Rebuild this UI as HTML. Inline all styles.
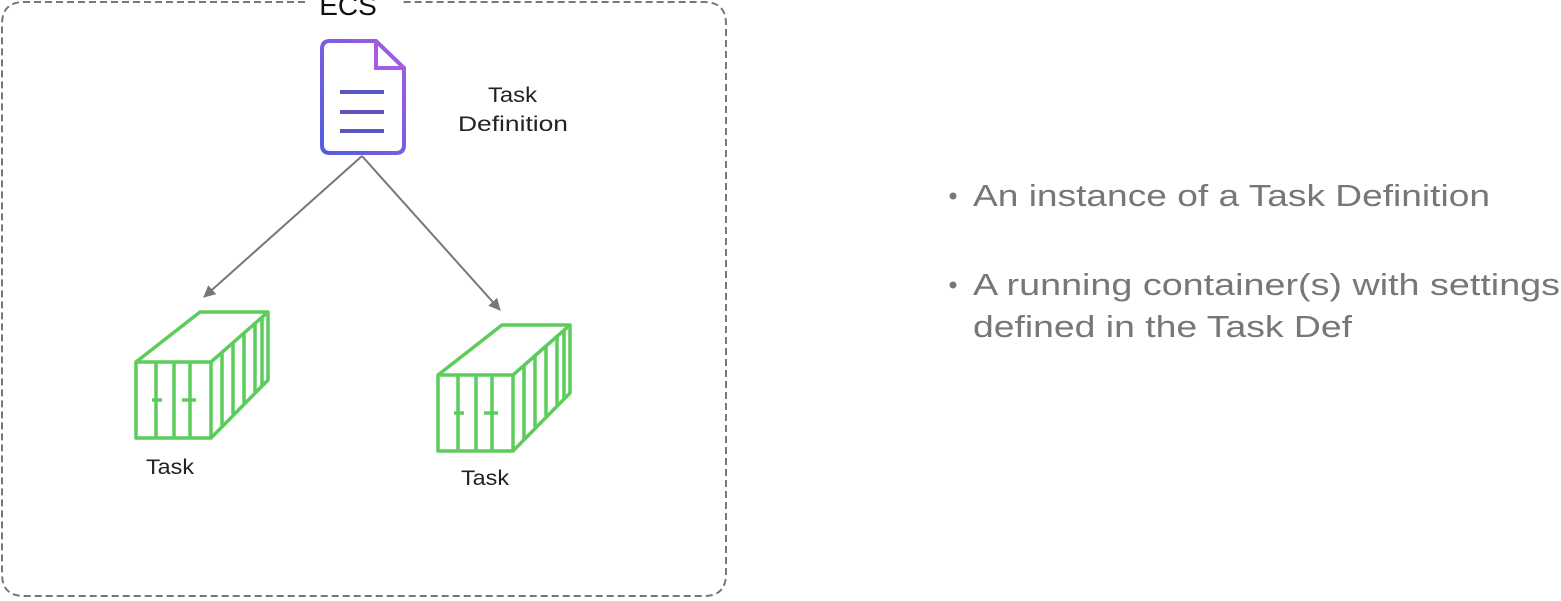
<!DOCTYPE html>
<html><head><meta charset="utf-8"><style>
html,body{margin:0;padding:0;background:#fff;}
svg{display:block}
text{font-family:"Liberation Sans","DejaVu Sans",sans-serif}
</style></head><body>
<svg width="1561" height="601" viewBox="0 0 1561 601" xmlns="http://www.w3.org/2000/svg">
<defs>
<linearGradient id="g" x1="0" y1="1" x2="1" y2="0">
<stop offset="0" stop-color="#4f5de0"/><stop offset="1" stop-color="#a65ce0"/>
</linearGradient>
<marker id="ah" markerWidth="14" markerHeight="14" refX="11" refY="6" orient="auto" markerUnits="userSpaceOnUse">
<path d="M0,0 L12,6 L0,12 Z" fill="#777"/>
</marker>
</defs>
<path d="M305,2 H24 Q2,2 2,24 V574 Q2,596 24,596 H704 Q726,596 726,574 V24 Q726,2 704,2 H402" fill="none" stroke="#777" stroke-width="2" stroke-dasharray="7,4"/>
<text x="348" y="15" font-size="28" text-anchor="middle" fill="#111">ECS</text>
<path d="M330,41 H376 L404,68 V145 Q404,153 396,153 H330 Q322,153 322,145 V49 Q322,41 330,41 Z" fill="none" stroke="url(#g)" stroke-width="4"/>
<path d="M376,41 V68 H404" fill="none" stroke="#a65ce0" stroke-width="4"/>
<g stroke="#5a55c0" stroke-width="4"><line x1="340" y1="92" x2="384" y2="92"/><line x1="340" y1="112" x2="384" y2="112"/><line x1="340" y1="131" x2="384" y2="131"/></g>
<text x="488" y="102" font-size="21" textLength="49" lengthAdjust="spacingAndGlyphs" fill="#222">Task</text>
<text x="458" y="131" font-size="21" textLength="110" lengthAdjust="spacingAndGlyphs" fill="#222">Definition</text>
<line x1="362" y1="156" x2="204" y2="297" stroke="#777" stroke-width="2" marker-end="url(#ah)"/>
<line x1="362" y1="156" x2="500" y2="310" stroke="#777" stroke-width="2" marker-end="url(#ah)"/>
<g id="c" fill="none" stroke="#5ccc5c" stroke-width="3.5" stroke-linejoin="round">
<path d="M136,362 H211 V438 H136 Z"/>
<path d="M136,362 L200,312 H268 L211,362"/>
<path d="M268,312 V380 L211,438"/>
<line x1="156" y1="362" x2="156" y2="438"/><line x1="174" y1="362" x2="174" y2="438"/><line x1="190" y1="362" x2="190" y2="438"/>
<line x1="152" y1="400" x2="162" y2="400"/><line x1="182" y1="400" x2="196" y2="400"/>
<line x1="222" y1="352" x2="222" y2="426"/><line x1="233" y1="342" x2="233" y2="414"/><line x1="244" y1="332" x2="244" y2="403"/><line x1="255" y1="322" x2="255" y2="392"/><line x1="262" y1="317" x2="262" y2="386"/>
</g>
<use href="#c" transform="translate(302,13)"/>
<text x="146" y="474" font-size="21" textLength="48" lengthAdjust="spacingAndGlyphs" fill="#222">Task</text>
<text x="461" y="485" font-size="21" textLength="48" lengthAdjust="spacingAndGlyphs" fill="#222">Task</text>
<g fill="#777" font-size="31">
<circle cx="953" cy="196" r="3.5"/><text x="973" y="206" textLength="517" lengthAdjust="spacingAndGlyphs">An instance of a Task Definition</text>
<circle cx="953" cy="285" r="3.5"/><text x="973" y="295" textLength="587" lengthAdjust="spacingAndGlyphs">A running container(s) with settings</text>
<text x="973" y="337" textLength="379" lengthAdjust="spacingAndGlyphs">defined in the Task Def</text>
</g>
</svg>
</body></html>
